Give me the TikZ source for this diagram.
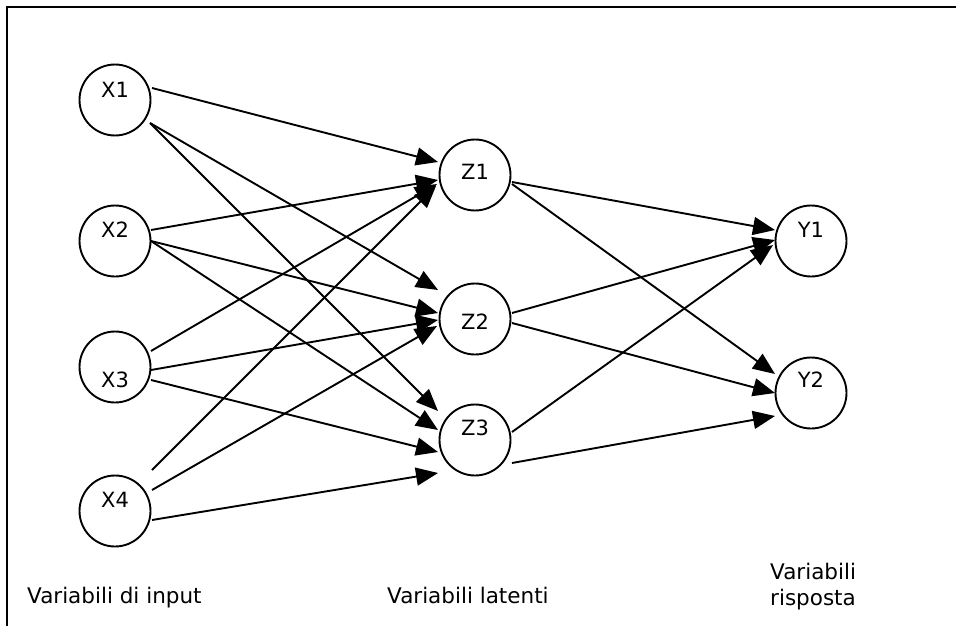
\documentclass[tikz,border=0pt]{standalone}
\usepackage{fontspec}
\setmainfont{DejaVu Sans}
\usetikzlibrary{arrows.meta}
\begin{document}
\begin{tikzpicture}[x=1pt,y=-1pt,
  unit/.style={circle,draw,line width=1.9pt,minimum size=71pt,inner sep=0pt},
  tag/.style={font=\fontsize{21}{26}\selectfont,inner sep=0pt},
  caption/.style={font=\fontsize{21.5}{26}\selectfont,inner sep=0pt,anchor=base west},
  link/.style={line width=1.9pt,-{Triangle[length=22pt,width=18pt]}}]
\useasboundingbox (0,0) rectangle (956,626);

% frame (top and left edges)
\draw[line width=2.4pt] (7,626) -- (7,7) -- (956,7);

% input layer
\node[unit] (x1) at (115,100) {};
\node[unit] (x2) at (115,241) {};
\node[unit] (x3) at (115,367) {};
\node[unit] (x4) at (115,511) {};
% latent layer
\node[unit] (z1) at (475,175) {};
\node[unit] (z2) at (475,319) {};
\node[unit] (z3) at (475,440) {};
% response layer
\node[unit] (y1) at (811,241) {};
\node[unit] (y2) at (811,393) {};

% unit names
\node[tag] (x1t) at (115,90) {X1};
\node[tag] (x2t) at (115,230) {X2};
\node[tag] (x3t) at (115,380) {X3};
\node[tag] (x4t) at (115,500) {X4};
\node[tag] (z1t) at (475,172) {Z1};
\node[tag] (z2t) at (475,322) {Z2};
\node[tag] (z3t) at (475,428) {Z3};
\node[tag] (y1t) at (811,230) {Y1};
\node[tag] (y2t) at (811,380) {Y2};

% input -> latent
\draw[link] ([shift={(37,-12)}]x1.center) -- ([shift={(-37,-13)}]z1.center);
\draw[link] ([shift={(35,23)}]x1.center) -- ([shift={(-37,-29)}]z2.center);
\draw[link] ([shift={(35,23)}]x1.center) -- ([shift={(-37,-29)}]z3.center);

\draw[link] ([shift={(36,-11)}]x2.center) -- ([shift={(-37,5)}]z1.center);
\draw[link] ([shift={(36,0)}]x2.center) -- ([shift={(-37,-6)}]z2.center);
\draw[link] ([shift={(36,0)}]x2.center) -- ([shift={(-37,-10)}]z3.center);

\draw[link] ([shift={(36,-16)}]x3.center) -- ([shift={(-38,9)}]z1.center);
\draw[link] ([shift={(36,3)}]x3.center) -- ([shift={(-37,1)}]z2.center);
\draw[link] ([shift={(36,13)}]x3.center) -- ([shift={(-37,12)}]z3.center);

\draw[link] ([shift={(37,-41)}]x4.center) -- ([shift={(-39,11)}]z1.center);
\draw[link] ([shift={(37,-21)}]x4.center) -- ([shift={(-38,7)}]z2.center);
\draw[link] ([shift={(37,9)}]x4.center) -- ([shift={(-37,33)}]z3.center);

% latent -> response
\draw[link] ([shift={(37,7)}]z1.center) -- ([shift={(-36,-11)}]y1.center);
\draw[link] ([shift={(37,9)}]z1.center) -- ([shift={(-36,-19)}]y2.center);
\draw[link] ([shift={(37,-6)}]z2.center) -- ([shift={(-36,-1)}]y1.center);
\draw[link] ([shift={(37,4)}]z2.center) -- ([shift={(-36,0)}]y2.center);
\draw[link] ([shift={(37,-8)}]z3.center) -- ([shift={(-38,4)}]y1.center);
\draw[link] ([shift={(37,23)}]z3.center) -- ([shift={(-36,23)}]y2.center);

% layer captions
\node[caption] (capx) at (27,603) {Variabili di input};
\node[caption] (capz) at (387,603) {Variabili latenti};
\node[caption] (capy1) at (770,579) {Variabili};
\node[caption] (capy2) at (770,605) {risposta};
\end{tikzpicture}
\end{document}
